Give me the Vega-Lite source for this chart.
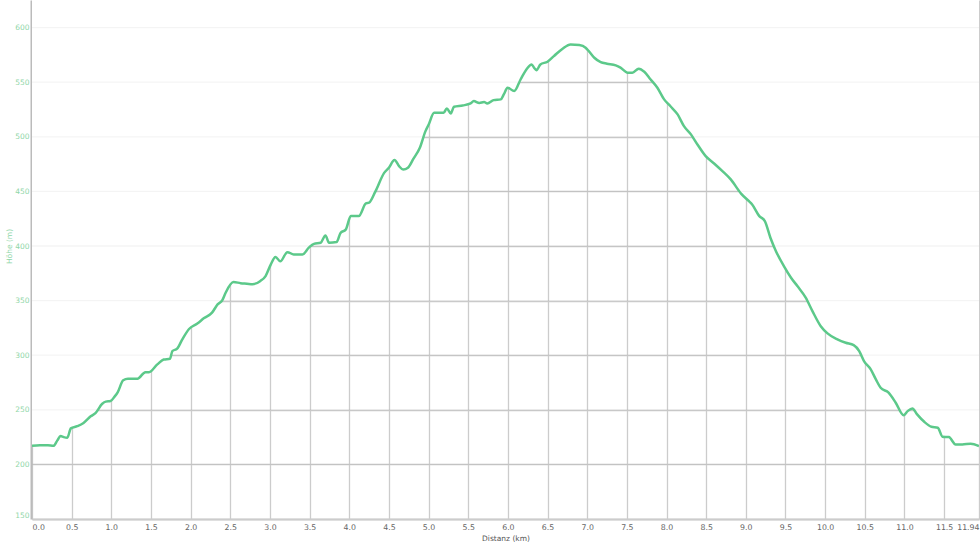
{
 "$schema": "https://vega.github.io/schema/vega-lite/v6.json",
 "width": 947,
 "height": 519,
 "autosize": "none",
 "padding": {"left": 32, "top": 0, "right": 1, "bottom": 24},
 "background": "white",
 "config": {"view": {"stroke": null}, "font": "DejaVu Sans"},
 "data": {"values": [
  {"km":0.00,"elev":217},{"km":0.10,"elev":217.5},{"km":0.20,"elev":217.5},{"km":0.27,"elev":217},
  {"km":0.32,"elev":222},{"km":0.36,"elev":226},{"km":0.40,"elev":225},{"km":0.445,"elev":224.5},
  {"km":0.49,"elev":233},{"km":0.57,"elev":235},{"km":0.65,"elev":238},{"km":0.74,"elev":244},
  {"km":0.80,"elev":247},{"km":0.886,"elev":255.5},{"km":0.93,"elev":257.5},{"km":0.99,"elev":258},
  {"km":1.04,"elev":262},{"km":1.08,"elev":266},{"km":1.15,"elev":277},{"km":1.21,"elev":278.5},
  {"km":1.33,"elev":278.5},{"km":1.43,"elev":284.5},{"km":1.475,"elev":284.5},{"km":1.58,"elev":291.6},
  {"km":1.66,"elev":296},{"km":1.74,"elev":296.8},{"km":1.77,"elev":303.8},{"km":1.83,"elev":306},
  {"km":1.895,"elev":314.5},{"km":1.98,"elev":324},{"km":2.085,"elev":329},{"km":2.17,"elev":334},
  {"km":2.27,"elev":339},{"km":2.34,"elev":346.5},{"km":2.40,"elev":350.5},{"km":2.44,"elev":357},
  {"km":2.54,"elev":367},{"km":2.63,"elev":366},{"km":2.71,"elev":365.5},{"km":2.78,"elev":365},
  {"km":2.88,"elev":368},{"km":2.945,"elev":372.5},{"km":3.01,"elev":383},{"km":3.07,"elev":390},
  {"km":3.13,"elev":386},{"km":3.22,"elev":394.4},{"km":3.30,"elev":392.3},{"km":3.41,"elev":392.3},
  {"km":3.49,"elev":398.5},{"km":3.555,"elev":402},{"km":3.64,"elev":403},{"km":3.70,"elev":409.7},
  {"km":3.745,"elev":403},{"km":3.84,"elev":403.6},{"km":3.89,"elev":412},{"km":3.955,"elev":415},
  {"km":4.02,"elev":427.4},{"km":4.12,"elev":427.4},{"km":4.21,"elev":439},{"km":4.25,"elev":439.7},
  {"km":4.33,"elev":450},{"km":4.44,"elev":467},{"km":4.50,"elev":471.7},{"km":4.57,"elev":478.7},
  {"km":4.63,"elev":473},{"km":4.68,"elev":470},{"km":4.74,"elev":471.7},{"km":4.81,"elev":480},
  {"km":4.89,"elev":490},{"km":4.96,"elev":505},{"km":5.00,"elev":511},{"km":5.07,"elev":522},
  {"km":5.13,"elev":522},{"km":5.19,"elev":522},{"km":5.23,"elev":526},{"km":5.28,"elev":521.4},
  {"km":5.32,"elev":527.5},{"km":5.43,"elev":528.7},{"km":5.53,"elev":530.6},{"km":5.57,"elev":532.7},
  {"km":5.64,"elev":531},{"km":5.70,"elev":531.8},{"km":5.74,"elev":530.6},{"km":5.82,"elev":533.6},
  {"km":5.91,"elev":534.3},{"km":5.95,"elev":539},{"km":5.995,"elev":545},{"km":6.08,"elev":541.9},
  {"km":6.16,"elev":552.5},{"km":6.24,"elev":562.4},{"km":6.30,"elev":566.3},{"km":6.33,"elev":563.3},
  {"km":6.36,"elev":561},{"km":6.41,"elev":566.3},{"km":6.50,"elev":568.8},{"km":6.58,"elev":573.9},
  {"km":6.69,"elev":580.7},{"km":6.79,"elev":584.6},{"km":6.90,"elev":584},{"km":6.98,"elev":581.6},
  {"km":7.02,"elev":578.5},{"km":7.09,"elev":572.4},{"km":7.17,"elev":568.4},{"km":7.25,"elev":567},
  {"km":7.36,"elev":565.4},{"km":7.42,"elev":563.3},{"km":7.51,"elev":558.7},{"km":7.57,"elev":558.7},
  {"km":7.65,"elev":562.4},{"km":7.72,"elev":559.6},{"km":7.80,"elev":552.5},{"km":7.885,"elev":545},
  {"km":7.97,"elev":534.3},{"km":8.05,"elev":528},{"km":8.14,"elev":520.5},{"km":8.22,"elev":509.8},
  {"km":8.31,"elev":502},{"km":8.39,"elev":493},{"km":8.494,"elev":482.3},{"km":8.60,"elev":475.6},
  {"km":8.705,"elev":468.6},{"km":8.81,"elev":461},{"km":8.94,"elev":448},{"km":9.04,"elev":441},
  {"km":9.08,"elev":438},{"km":9.17,"elev":427.4},{"km":9.24,"elev":422.8},{"km":9.31,"elev":407.6},
  {"km":9.38,"elev":395.3},{"km":9.48,"elev":381.6},{"km":9.57,"elev":371},{"km":9.65,"elev":363.3},
  {"km":9.755,"elev":352.7},{"km":9.84,"elev":340.4},{"km":9.945,"elev":326.6},{"km":10.03,"elev":320},
  {"km":10.155,"elev":314.5},{"km":10.26,"elev":311.4},{"km":10.36,"elev":309.3},{"km":10.43,"elev":303.8},
  {"km":10.49,"elev":294.6},{"km":10.575,"elev":287},{"km":10.64,"elev":277.8},{"km":10.70,"elev":270.2},
  {"km":10.80,"elev":265.7},{"km":10.89,"elev":256.5},{"km":10.99,"elev":245},{"km":11.04,"elev":248.8},
  {"km":11.10,"elev":251.3},{"km":11.16,"elev":245.8},{"km":11.25,"elev":239},{"km":11.34,"elev":234.5},
  {"km":11.42,"elev":233.6},{"km":11.48,"elev":225.4},{"km":11.56,"elev":225},{"km":11.645,"elev":218.3},
  {"km":11.73,"elev":218.3},{"km":11.835,"elev":219},{"km":11.94,"elev":216.8}
 ]},
 "layer": [
  {
   "mark": {"type": "area", "color": "white", "opacity": 1, "clip": true, "interpolate": "monotone"},
   "encoding": {
    "x": {"field": "km", "type": "quantitative",
     "scale": {"domain": [0, 11.94], "nice": false, "zero": false},
     "axis": {
      "values": [0,0.5,1,1.5,2,2.5,3,3.5,4,4.5,5,5.5,6,6.5,7,7.5,8,8.5,9,9.5,10,10.5,11,11.5,11.94],
      "tickCount": 40,
      "labelExpr": "datum.value == 11.94 ? '11.94' : format(datum.value, '.1f')",
      "labelOverlap": false,
      "grid": true, "gridColor": "#cccccc", "gridWidth": 1.3,
      "ticks": false, "domainColor": "#cccccc", "domainWidth": 2,
      "labelColor": "#666666", "labelFontSize": 7.8, "labelFlush": true, "labelPadding": 4,
      "title": "Distanz (km)", "titleColor": "#555555", "titleFontSize": 7.5,
      "titleFontWeight": "normal", "titleY": 19, "titleBaseline": "middle"
     }},
    "y": {"field": "elev", "type": "quantitative",
     "scale": {"domain": [150, 625.3], "nice": false, "zero": false},
     "axis": {
      "values": [150,200,250,300,350,400,450,500,550,600],
      "tickCount": 20,
      "labelOverlap": false,
      "grid": true, "gridColor": "#cccccc", "gridWidth": 1.3,
      "ticks": false, "domainColor": "#bbbbbb", "domainWidth": 2, "offset": 1,
      "labelColor": "#8fd6a8", "labelFontSize": 7.5, "labelPadding": 2, "labelFlush": true,
      "title": "Höhe (m)", "titleColor": "#8fd6a8", "titleFontSize": 7.5,
      "titleFontWeight": "normal", "titleX": -22, "titleY": 246, "titleBaseline": "middle"
     }},
    "y2": {"datum": 625.3}
   }
  },
  {
   "data": {"values": [{"g":200},{"g":250},{"g":300},{"g":350},{"g":400},{"g":450},{"g":500},{"g":550},{"g":600}]},
   "mark": {"type": "rule", "color": "#000000", "opacity": 0.045, "strokeWidth": 1.3},
   "encoding": {"y": {"field": "g", "type": "quantitative"}}
  },
  {
   "mark": {"type": "line", "color": "#5cc98a", "strokeWidth": 2.5, "clip": true, "interpolate": "monotone"},
   "encoding": {
    "x": {"field": "km", "type": "quantitative"},
    "y": {"field": "elev", "type": "quantitative"}
   }
  }
 ]
}
